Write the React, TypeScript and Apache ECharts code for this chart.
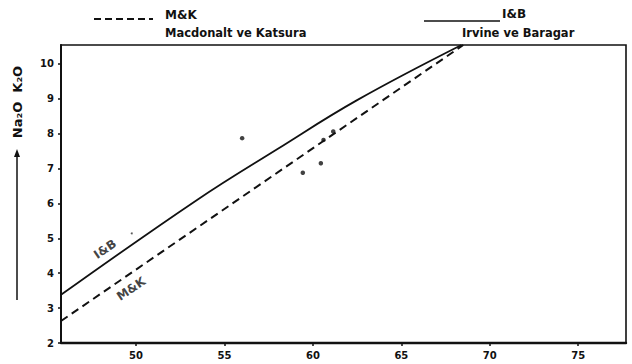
import React, { useEffect, useRef } from "react";
import * as echarts from "echarts";

// SiO2 (wt%) on x, Na2O + K2O (wt%) on y
const silicaTicks = [50, 55, 60, 65, 70, 75];
const alkaliTicks = [2, 3, 4, 5, 6, 7, 8, 9, 10];

// Irvine & Baragar alkaline / subalkaline boundary
const ibSilica = [45.76, 53.45, 58.0, 62.5, 68.4];
const ibAlkali = [3.38, 6.1, 7.56, 8.96, 10.54];

// Macdonald & Katsura boundary
const mkSilica = [45.76, 54.19, 68.5];
const mkAlkali = [2.63, 5.56, 10.54];

// analysed samples
const sampleSilica = [56.0, 59.43, 60.45, 60.6, 61.15];
const sampleAlkali = [7.87, 6.88, 7.15, 7.82, 8.06];
const minorSilica = [49.76];
const minorAlkali = [5.14];

// curve captions inside the plot
const captionNames = ["I&B", "M&K"];
const captionSilica = [48.25, 49.72];
const captionAlkali = [4.69, 3.55];

const FONT = "DejaVu Sans";

export default function App() {
  const ref = useRef<HTMLDivElement>(null);

  useEffect(() => {
    const chart = echarts.init(ref.current!, null, { renderer: "svg" });
    const textStyle = { fontFamily: FONT, fontWeight: "bold" as const, fill: "#111" };

    chart.setOption({
      animation: false,
      backgroundColor: "#fff",
      grid: {
        left: 61,
        right: 6,
        top: 45,
        bottom: 21,
        show: true,
        borderColor: "#111",
        borderWidth: 1.6,
      },
      xAxis: {
        type: "value",
        min: 45.76,
        max: 77.7,
        axisLine: { show: true, lineStyle: { color: "#111", width: 2.4 } },
        axisTick: { show: true, length: 3, customValues: silicaTicks, lineStyle: { color: "#111", width: 1.5 } },
        axisLabel: {
          customValues: silicaTicks,
          margin: 7,
          color: "#111",
          fontFamily: FONT,
          fontWeight: "bold",
          fontSize: 10,
        },
        splitLine: { show: false },
      },
      yAxis: {
        type: "value",
        min: 2,
        max: 10.54,
        axisLine: { show: true, lineStyle: { color: "#111", width: 2 } },
        axisTick: { show: true, length: 3, customValues: alkaliTicks, lineStyle: { color: "#111", width: 1.5 } },
        axisLabel: {
          customValues: alkaliTicks,
          margin: 7,
          color: "#111",
          fontFamily: FONT,
          fontWeight: "bold",
          fontSize: 10,
        },
        splitLine: { show: false },
      },
      series: [
        {
          name: "I&B",
          type: "line",
          smooth: 0.4,
          symbol: "none",
          data: ibSilica.map((x, i) => [x, ibAlkali[i]]),
          lineStyle: { color: "#111", width: 1.8 },
        },
        {
          name: "M&K",
          type: "line",
          symbol: "none",
          data: mkSilica.map((x, i) => [x, mkAlkali[i]]),
          lineStyle: { color: "#111", width: 2, type: [8, 5] },
        },
        {
          name: "samples",
          type: "scatter",
          symbolSize: 4.5,
          itemStyle: { color: "#111" },
          data: sampleSilica.map((x, i) => [x, sampleAlkali[i]]),
        },
        {
          name: "minor",
          type: "scatter",
          symbolSize: 2,
          itemStyle: { color: "#333" },
          data: minorSilica.map((x, i) => [x, minorAlkali[i]]),
        },
        {
          name: "captions",
          type: "scatter",
          symbolSize: 0,
          silent: true,
          data: captionNames.map((n, i) => ({ name: n, value: [captionSilica[i], captionAlkali[i]] })),
          label: {
            show: true,
            position: "inside",
            formatter: "{b}",
            rotate: 34,
            color: "#111",
            fontFamily: FONT,
            fontWeight: "bold",
            fontSize: 12,
          },
        },
      ],
      graphic: [
        // legend: Macdonald & Katsura
        {
          type: "line",
          shape: { x1: 94, y1: 19, x2: 153, y2: 19 },
          style: { stroke: "#111", lineWidth: 2, lineDash: [7, 4] },
        },
        { type: "text", x: 165, y: 15, style: { ...textStyle, text: "M&K", fontSize: 12, verticalAlign: "middle" } },
        {
          type: "text",
          x: 165,
          y: 33,
          style: { ...textStyle, text: "Macdonalt ve Katsura", fontSize: 11.5, verticalAlign: "middle" },
        },
        // legend: Irvine & Baragar
        {
          type: "line",
          shape: { x1: 424, y1: 21, x2: 500, y2: 21 },
          style: { stroke: "#111", lineWidth: 1.6 },
        },
        { type: "text", x: 502, y: 14, style: { ...textStyle, text: "I&B", fontSize: 12, verticalAlign: "middle" } },
        {
          type: "text",
          x: 462,
          y: 33,
          style: { ...textStyle, text: "Irvine ve Baragar", fontSize: 11.5, verticalAlign: "middle" },
        },
        // y-axis title with upward arrow
        {
          type: "line",
          shape: { x1: 17, y1: 300, x2: 17, y2: 154 },
          style: { stroke: "#111", lineWidth: 1.5 },
        },
        {
          type: "polygon",
          shape: { points: [[14, 157], [20, 157], [17, 149]] },
          style: { fill: "#111" },
        },
        {
          type: "text",
          x: 17,
          y: 102,
          rotation: Math.PI / 2,
          style: {
            ...textStyle,
            text: "Na₂O  K₂O",
            fontSize: 13,
            align: "center",
            verticalAlign: "middle",
          },
        },
      ],
    });

    return () => chart.dispose();
  }, []);

  return (
    <div
      ref={ref}
      style={{ position: "absolute", left: 0, top: 0, width: 632, height: 364, background: "#fff" }}
    />
  );
}
